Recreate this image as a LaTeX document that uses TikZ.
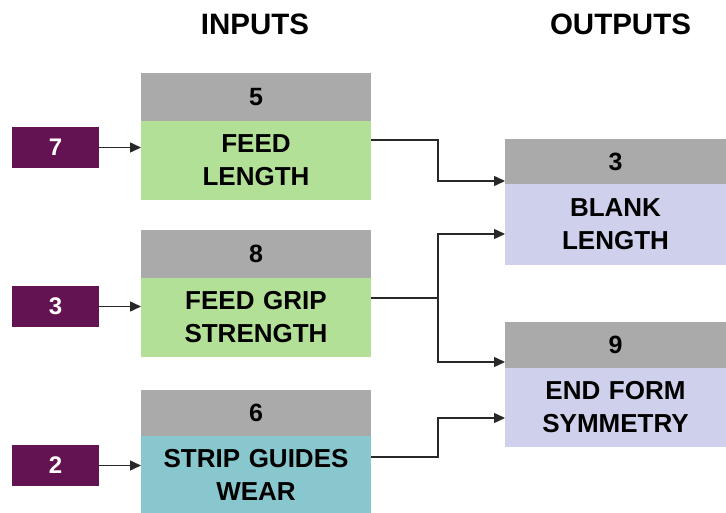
\documentclass[tikz,border=0pt]{standalone}
\usepackage{fontspec}
\setmainfont{Liberation Sans}
\usetikzlibrary{arrows.meta}
\definecolor{hdrgray}{RGB}{170,170,170}
\definecolor{ingreen}{RGB}{179,224,151}
\definecolor{inteal}{RGB}{136,199,206}
\definecolor{outlav}{RGB}{207,208,236}
\definecolor{srcpurple}{RGB}{100,19,82}
\definecolor{linecol}{RGB}{40,40,40}
\tikzset{
  base/.style={inner sep=0pt, outer sep=0pt, align=center, anchor=north west, font=\bfseries},
  inhdr/.style={base, fill=hdrgray, text width=230pt, minimum height=48pt, font=\bfseries\fontsize{25}{30}\selectfont},
  inbody/.style={base, text width=230pt, minimum height=79pt, font=\bfseries\fontsize{26}{33}\selectfont},
  outhdr/.style={base, fill=hdrgray, text width=221pt, minimum height=45pt, font=\bfseries\fontsize{25}{30}\selectfont},
  outbody/.style={base, fill=outlav, text width=221pt, minimum height=81pt, font=\bfseries\fontsize{26}{33}\selectfont},
  src/.style={base, fill=srcpurple, text=white, text width=87pt, minimum height=41pt, font=\bfseries\fontsize{24}{28}\selectfont},
  title/.style={font=\bfseries\fontsize{29.5}{32}\selectfont, inner sep=0pt},
  conn/.style={draw=linecol, line width=1.5pt},
  arr/.style={conn, -{Triangle[length=11pt,width=10pt]}}
}
\begin{document}
\begin{tikzpicture}[x=1pt,y=-1pt]
\useasboundingbox (0,0) rectangle (726,513);
% titles
\node[title] (tin) at (255,24) {INPUTS};
\node[title] (tout) at (620.5,24) {OUTPUTS};
% inputs
\node[inhdr] (h1) at (141,73) {5};
\node[inbody, fill=ingreen] (b1) at (141,121) {FEED\\LENGTH};
\node[inhdr] (h2) at (141,230) {8};
\node[inbody, fill=ingreen] (b2) at (141,278) {FEED GRIP\\STRENGTH};
\node[inhdr, minimum height=46pt] (h3) at (141,390) {6};
\node[inbody, fill=inteal, minimum height=77pt] (b3) at (141,436) {STRIP GUIDES\\WEAR};
% outputs
\node[outhdr] (oh1) at (505,139) {3};
\node[outbody] (ob1) at (505,184) {BLANK\\LENGTH};
\node[outhdr, minimum height=46pt] (oh2) at (505,322) {9};
\node[outbody, minimum height=79pt] (ob2) at (505,368) {END FORM\\SYMMETRY};
% sources
\node[src] (s1) at (12,127) {7};
\node[src] (s2) at (12,286) {3};
\node[src] (s3) at (12,445) {2};
% source arrows
\draw[arr] (s1.east) -- (s1.east -| b1.west);
\draw[arr] (s2.east) -- (s2.east -| b2.west);
\draw[arr] (s3.east) -- (s3.east -| b3.west);
% connectors
\coordinate (j2) at (438,298);
\draw[arr] (b1.east |- 0,140) -| (438,181) -- (oh1.west |- 0,181);
\draw[conn] (b2.east |- j2) -- (j2);
\draw[arr] (j2) |- (ob1.west |- 0,234);
\draw[arr] (j2) |- (oh2.west |- 0,362);
\draw[arr] (b3.east |- 0,457) -| (438,418) -- (ob2.west |- 0,418);
\end{tikzpicture}
\end{document}
